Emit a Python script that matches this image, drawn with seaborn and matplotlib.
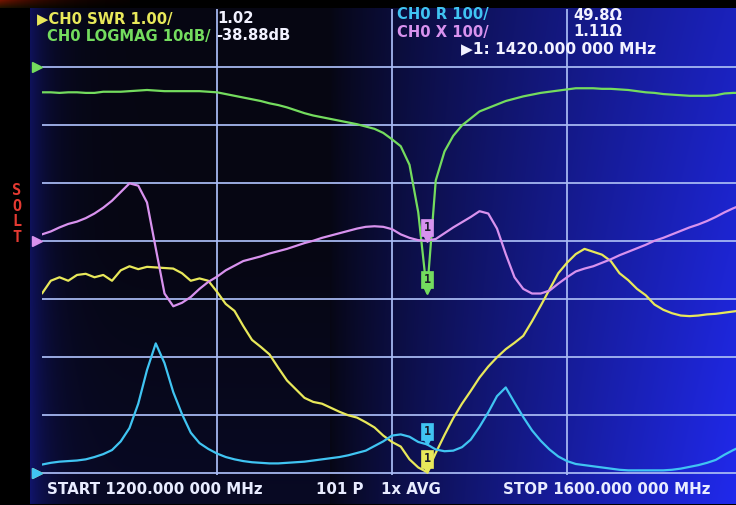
import numpy as np
import pandas as pd
import matplotlib
matplotlib.use("Agg")
import matplotlib.pyplot as plt
import matplotlib.transforms as mtransforms
import seaborn as sns

# sweep: 1200 -> 1600 MHz, one reading every 5 MHz
start_mhz, stop_mhz = 1200, 1600
freq_mhz = np.linspace(start_mhz, stop_mhz, 81)
marker_mhz = 1420

# CH0 LOGMAG (dB), ref 0 dB on division 7, 10 dB/div
logmag_db = [
    -4.3, -4.3, -4.4, -4.3, -4.3, -4.4, -4.4, -4.2, -4.2, -4.2,
    -4.1, -4.0, -3.9, -4.0, -4.1, -4.1, -4.1, -4.1, -4.1, -4.2,
    -4.3, -4.6, -4.9, -5.2, -5.5, -5.8, -6.2, -6.5, -6.9, -7.4,
    -7.9, -8.3, -8.6, -8.9, -9.2, -9.5, -9.8, -10.2, -10.6, -11.3,
    -12.4, -13.6, -16.8, -25.0, -38.88, -19.5, -14.5, -11.8, -10.0, -8.8,
    -7.6, -7.0, -6.4, -5.8, -5.4, -5.0, -4.7, -4.4, -4.2, -4.0,
    -3.8, -3.6, -3.6, -3.6, -3.7, -3.7, -3.8, -3.9, -4.1, -4.3,
    -4.4, -4.6, -4.7, -4.8, -4.9, -4.9, -4.9, -4.8, -4.5, -4.4,
    -4.4,
]

# CH0 SWR, ref 1.00 on division 0, 1.00/div
swr = [
    4.10, 4.32, 4.38, 4.32, 4.42, 4.44, 4.38, 4.42, 4.32, 4.50,
    4.57, 4.52, 4.56, 4.55, 4.54, 4.53, 4.45, 4.32, 4.36, 4.32,
    4.13, 3.92, 3.80, 3.54, 3.30, 3.18, 3.05, 2.82, 2.60, 2.45,
    2.30, 2.23, 2.20, 2.13, 2.06, 2.00, 1.96, 1.88, 1.79, 1.65,
    1.54, 1.46, 1.24, 1.10, 1.02, 1.35, 1.66, 1.95, 2.20, 2.42,
    2.65, 2.84, 3.00, 3.14, 3.25, 3.37, 3.62, 3.89, 4.17, 4.45,
    4.63, 4.78, 4.87, 4.82, 4.77, 4.66, 4.45, 4.33, 4.18, 4.07,
    3.91, 3.82, 3.76, 3.72, 3.71, 3.72, 3.74, 3.75, 3.77, 3.79,
    3.81,
]

# CH0 R (ohm), ref 0 on division 0, 100/div
r_ohm = [
    15, 18, 20, 21, 22, 24, 28, 33, 40, 55,
    78, 120, 178, 224, 190, 140, 102, 70, 52, 42,
    34, 28, 24, 21, 19, 18, 17, 17, 18, 19,
    20, 22, 24, 26, 28, 31, 35, 39, 47, 55,
    65, 67, 63, 54, 49.8, 41, 38, 39, 45, 58,
    80, 105, 133, 148, 122, 97, 74, 56, 41, 29,
    21, 16, 14, 12, 10, 8, 6, 5, 5, 5,
    5, 5, 6, 8, 11, 14, 18, 23, 32, 40,
    47,
]

# CH0 X (ohm), ref 0 on division 4, 100/div
x_ohm = [
    12, 17, 24, 30, 34, 40, 48, 58, 70, 85,
    100, 96, 67, -12, -90, -112, -106, -96, -82, -70,
    -61, -50, -42, -34, -30, -26, -21, -17, -13, -8,
    -3, 1, 6, 10, 14, 18, 22, 25, 26, 25,
    21, 12, 6, 2, 1.11, 4, 14, 24, 33, 42,
    52, 48, 22, -22, -62, -82, -90, -90, -85, -73,
    -62, -52, -47, -43, -37, -31, -24, -18, -12, -6,
    1, 6, 12, 18, 24, 29, 35, 42, 50, 57,
    63,
]

# trace: (values, ref value, ref division, units per division)
traces = {
    "SWR": (swr, 1.0, 0, 1.0),
    "LOGMAG": (logmag_db, 0.0, 7, 10.0),
    "X": (x_ohm, 0.0, 4, 100.0),
    "R": (r_ohm, 0.0, 0, 100.0),
}
colors = {"SWR": "#e8e85a", "LOGMAG": "#74dc5e", "X": "#d892ee", "R": "#40c4f2"}

frames = []
for name, (vals, ref, ref_div, per_div) in traces.items():
    div = ref_div + (np.asarray(vals, dtype=float) - ref) / per_div
    frames.append(pd.DataFrame({"freq": freq_mhz, "div": div, "trace": name}))
df = pd.concat(frames, ignore_index=True)

sns.set_theme(style="dark")
W, H = 736, 505
fig = plt.figure(figsize=(W / 100, H / 100), dpi=100, facecolor="black")

# screen background: black bezel, LCD getting bluer to the right
bg = fig.add_axes([0, 0, 1, 1])
yy, xx = np.mgrid[0:H, 0:W].astype(float)
b = 0.04 + 0.85 * np.clip((xx - 330) / 406, 0, 1) ** 0.8
b *= 0.78 + 0.22 * yy / H
b += 0.28 * np.exp(-np.clip(xx - 30, 0, None) / 20.0)
b += 0.06 * np.clip((yy - 250) / 250, 0, 1) * (xx < 330)
img = np.dstack([0.02 + 0.12 * b, 0.02 + 0.16 * b, 0.04 + b])
lcd = (xx >= 30) & (yy >= 8) & (yy <= 503)
img[~lcd] = 0.0
# reddish reflection in the top-left corner of the bezel
corner = (yy < 8) & (xx < 130)
img[..., 0] += corner * 0.45 * np.exp(-xx / 45.0) * (1 - yy / 10.0)
img[..., 1] += corner * 0.08 * np.exp(-xx / 45.0)
img = np.clip(img, 0, 1)
bg.imshow(img, aspect="auto", extent=(0, 1, 0, 1), origin="upper",
          interpolation="nearest")
bg.set_xlim(0, 1)
bg.set_ylim(0, 1)
bg.set_axis_off()

# trace area: 1200 MHz at x=42px, 100 MHz = 175px; 8 divisions of 58.2px
ax = fig.add_axes([42 / W, 30 / H, 700 / W, 465.6 / H])
ax.set_facecolor("none")
sns.lineplot(data=df, x="freq", y="div", hue="trace",
             hue_order=["SWR", "LOGMAG", "X", "R"], palette=colors,
             estimator=None, sort=False, lw=1.6, legend=False, ax=ax, zorder=3)
ax.set_xlim(start_mhz, stop_mhz)
ax.set_ylim(-0.03, 8)
ax.set_xticks([1300, 1400, 1500])
ax.set_yticks(range(0, 8))
ax.grid(True, color="#a9bbf4", lw=1.4, alpha=0.9)
ax.tick_params(length=0, labelbottom=False, labelleft=False)
ax.set_xlabel("")
ax.set_ylabel("")
for s in ax.spines.values():
    s.set_visible(False)

# reference position triangles on the left edge
for name in ["SWR", "R", "X", "LOGMAG"]:
    ref_div = traces[name][2]
    ax.plot(1197, ref_div, marker=">", ms=7, color=colors[name],
            clip_on=False, zorder=4)

# marker 1 on every trace
tip = mtransforms.offset_copy(ax.transData, fig=fig, x=0, y=3, units="dots")
sub = df[df["freq"] == marker_mhz]
for _, row in sub.iterrows():
    c = colors[row["trace"]]
    ax.plot(row["freq"], row["div"], marker="v", ms=6, color=c,
            transform=tip, zorder=5, clip_on=False)
    ax.annotate("1", xy=(row["freq"], row["div"]), xytext=(0, 9.5),
                textcoords="offset points", ha="center", va="center",
                fontsize=8.5, fontweight="bold", color="#1a1a2a",
                family="DejaVu Sans Mono", zorder=6,
                bbox=dict(boxstyle="square,pad=0.18", fc=c, ec=c, lw=0.5))


def put(px, py, s, color, size=10.6):
    fig.text(px / W, 1 - py / H, s, color=color, fontsize=size,
             fontweight="bold", ha="left", va="center",
             family=["DejaVu Sans", "DejaVu Sans Mono"])


white = "#f2f2ff"
put(37, 18.5, "▶CH0 SWR 1.00/", colors["SWR"])
put(217, 18.5, "1.02", white)
put(47, 36, "CH0 LOGMAG 10dB/", colors["LOGMAG"])
put(216, 36, "-38.88dB", white)
put(397, 15, "CH0 R 100/", colors["R"])
put(573, 15, "49.8Ω", white)
put(397, 32, "CH0 X 100/", colors["X"])
put(573, 32, "1.11Ω", white)
put(461, 49, "▶1: 1420.000 000 MHz", white, 11.1)

put(47, 490, "START 1200.000 000 MHz", "#e8ecff", 10.8)
put(316, 490, "101 P", "#e8ecff", 10.8)
put(381, 490, "1x AVG", "#e8ecff", 10.8)
put(503, 490, "STOP 1600.000 000 MHz", "#e8ecff", 10.8)

fig.text(17 / W, 1 - 214 / H, "S\nO\nL\nT", color="#e43a32", fontsize=11,
         fontweight="bold", ha="center", va="center", linespacing=1.05,
         family="DejaVu Sans Mono")

fig.savefig("out.png", dpi=100, facecolor="black")
